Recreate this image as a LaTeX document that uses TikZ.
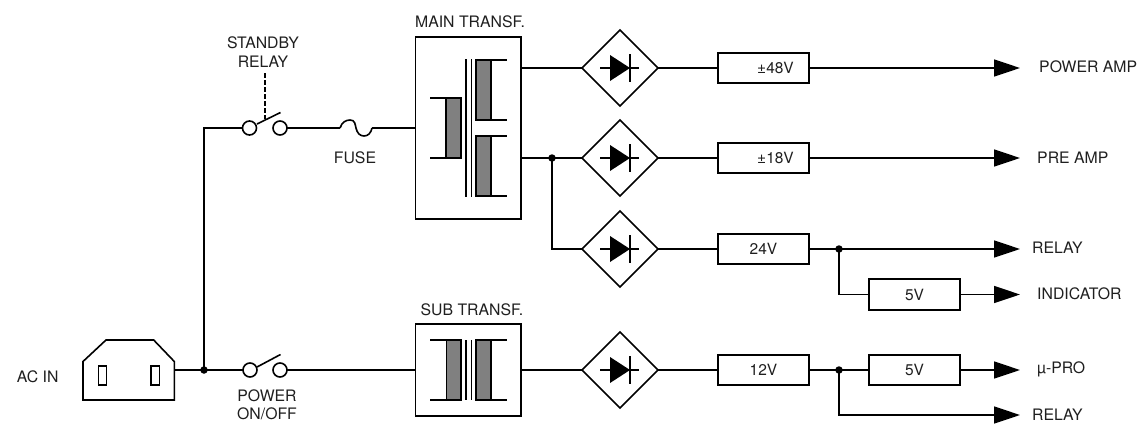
\documentclass[tikz,border=0pt]{standalone}
\usepackage{fontspec}
\setmainfont{TeX Gyre Heros}
\usetikzlibrary{shapes.geometric,arrows.meta}
\tikzset{
  wire/.style={line width=1.6pt,line cap=butt,line join=miter},
  outarrow/.style={wire,-{Triangle[length=26pt,width=17pt]}},
  rectifier/.style={diamond,draw,line width=1.6pt,minimum width=76pt,minimum height=76pt,aspect=1,inner sep=0pt,outer sep=0pt},
  volt/.style={rectangle,draw,line width=1.6pt,minimum width=91pt,minimum height=30.5pt,inner sep=0pt,outer sep=0pt,font=\fontsize{15.5}{17}\selectfont,text=black!88},
  transf/.style={rectangle,draw,line width=1.6pt,inner sep=0pt,outer sep=0pt,minimum width=105.5pt},
  junction/.style={circle,fill=black,draw=none,minimum size=7.5pt,inner sep=0pt,outer sep=0pt},
  contact/.style={circle,draw,line width=1.6pt,minimum size=14pt,inner sep=0pt,outer sep=0pt},
  lbl/.style={font=\fontsize{15.8}{18.5}\selectfont,text=black!88,inner sep=0pt,align=center},
  rlbl/.style={lbl,anchor=west},
  coil/.style={draw,fill=black!50,line width=1.6pt},
  diode/.pic={
    \draw[line width=1.6pt] (-20,0) -- (19,0);
    \fill (-10,-13) -- (10,0) -- (-10,13) -- cycle;
    \draw[line width=1.6pt] (10,-14) -- (10,14);
  }
}
\begin{document}
\begin{tikzpicture}[x=1pt,y=-1pt]
\useasboundingbox (0,0) rectangle (1142,426);
% AC inlet
\draw[line width=1.6pt,line join=miter] (83,361.5) -- (106,340) -- (153.7,340) -- (174.3,361.5) -- (174.3,400) -- (83,400) -- cycle;
\draw[line width=1.4pt] (98.7,366) rectangle (106.7,385);
\draw[line width=1.4pt] (151,366) rectangle (159.7,385);
\coordinate (inlet) at (174.3,370);
\node[lbl] (acin) at (37.7,376.5) {AC IN};
\node[junction] (j0) at (204,370) {};
% power switch
\node[contact] (p1) at (250,370) {};
\node[contact] (p2) at (280,370) {};
\coordinate (parmA) at (257,367);
\coordinate (parmB) at (280.5,354.5);
\draw[wire] (parmA) -- (parmB);
\node[lbl] (pwr) at (267,405) {POWER\\[-0.5pt]ON/OFF};
% standby relay
\coordinate (corner) at (204,128);
\node[contact] (s1) at (249.5,128) {};
\node[contact] (s2) at (280,128) {};
\coordinate (sarmA) at (257,124);
\coordinate (sarmB) at (280.5,112.5);
\draw[wire] (sarmA) -- (sarmB);
\coordinate (relayTop) at (265,73);
\coordinate (relayBot) at (265,118.5);
\draw[line width=1.6pt,dash pattern=on 4.5pt off 2.5pt] (relayTop) -- (relayBot);
\node[lbl] (stby) at (263,52.5) {STANDBY\\[0.5pt]RELAY};
% fuse
\coordinate (fuseL) at (340,128);
\coordinate (fuseR) at (372,128);
\draw[wire] (fuseL) .. controls (342,122) and (346,120) .. (350,120) .. controls (355,120) and (355,124) .. (356,128) .. controls (357,133) and (360,136) .. (364,136) .. controls (368,136) and (371,133) .. (fuseR);
\node[lbl] (fuse) at (355,157.5) {FUSE};
% main transformer
\node[transf,minimum height=182pt] (main) at (468.2,128) {};
\node[lbl] (mainl) at (470,22) {MAIN TRANSF.};
\draw[wire] (465.7,59) -- (465.7,197) (471.3,59) -- (471.3,197);
\draw[coil] (476,60) rectangle (491,120);
\draw[coil] (476,136) rectangle (491,196);
\draw[coil] (445.7,98) rectangle (461,158);
\draw[wire] (491,60) -- (507,60) (491,120) -- (507,120) (491,136) -- (507,136) (491,196) -- (507,196);
\draw[wire] (430,98) -- (445.7,98) (430,158) -- (445.7,158);
% sub transformer
\node[transf,minimum height=92pt] (sub) at (468.2,370) {};
\node[lbl] (subl) at (472,310) {SUB TRANSF.};
\draw[wire] (465.7,340) -- (465.7,400) (471.3,340) -- (471.3,400);
\draw[coil] (446.5,340) rectangle (461,400);
\draw[coil] (476,340) rectangle (491,400);
\draw[wire] (430,340) -- (446.5,340) (430,400) -- (446.5,400) (491,340) -- (507,340) (491,400) -- (507,400);
% rectifiers
\node[rectifier] (r1) at (620,68) {};
\node[rectifier] (r2) at (620,158) {};
\node[rectifier] (r3) at (620,249) {};
\node[rectifier] (r4) at (620,370) {};
\pic at (r1.center) {diode};
\pic at (r2.center) {diode};
\pic at (r3.center) {diode};
\pic at (r4.center) {diode};
% regulators
\node[volt] (b48) at (763.5,68) {\hspace*{24pt}±48V};
\node[volt] (b18) at (763.5,158) {\hspace*{24pt}±18V};
\node[volt] (b24) at (763.5,249) {24V};
\node[volt] (b12) at (763.5,370) {12V};
\node[volt] (b5a) at (914.5,294.5) {5V};
\node[volt] (b5b) at (914.5,370) {5V};
\node[junction] (j1) at (552,158) {};
\node[junction] (j2) at (839,249) {};
\node[junction] (j3) at (839,370) {};
% outputs
\coordinate (oPower) at (1020,68);
\coordinate (oPre) at (1020,158);
\coordinate (oRelay) at (1020,249);
\coordinate (oInd) at (1020,294.5);
\coordinate (oPro) at (1020,370);
\coordinate (oRelay2) at (1020,415);
\node[rlbl] (lPower) at (1039,67) {POWER AMP};
\node[rlbl] (lPre) at (1037,157.5) {PRE AMP};
\node[rlbl] (lRelay) at (1032,248) {RELAY};
\node[rlbl] (lInd) at (1037,294) {INDICATOR};
\node[rlbl] (lPro) at (1037,369) {µ-PRO};
\node[rlbl] (lRelay2) at (1032,415) {RELAY};
% connectors
\draw[wire] (inlet) -- (p1.west);
\draw[wire] (p2.east) -- (sub.west |- p2.east);
\draw[wire] (j0.center) -- (corner) -- (s1.west);
\draw[wire] (s2.east) -- (fuseL);
\draw[wire] (fuseR) -- (main.west |- fuseR);
\draw[wire] (main.east |- r1.west) -- (r1.west);
\draw[wire] (main.east |- r2.west) -- (r2.west);
\draw[wire] (j1.center) |- (r3.west);
\draw[wire] (sub.east |- r4.west) -- (r4.west);
\draw[wire] (r1.east) -- (b48.west);
\draw[wire] (r2.east) -- (b18.west);
\draw[wire] (r3.east) -- (b24.west);
\draw[wire] (r4.east) -- (b12.west);
\draw[outarrow] (b48.east) -- (oPower);
\draw[outarrow] (b18.east) -- (oPre);
\draw[outarrow] (b24.east) -- (oRelay);
\draw[wire] (j2.center) |- (b5a.west);
\draw[outarrow] (b5a.east) -- (oInd);
\draw[wire] (b12.east) -- (b5b.west);
\draw[outarrow] (b5b.east) -- (oPro);
\draw[outarrow] (j3.center) |- (oRelay2);
\end{tikzpicture}
\end{document}
